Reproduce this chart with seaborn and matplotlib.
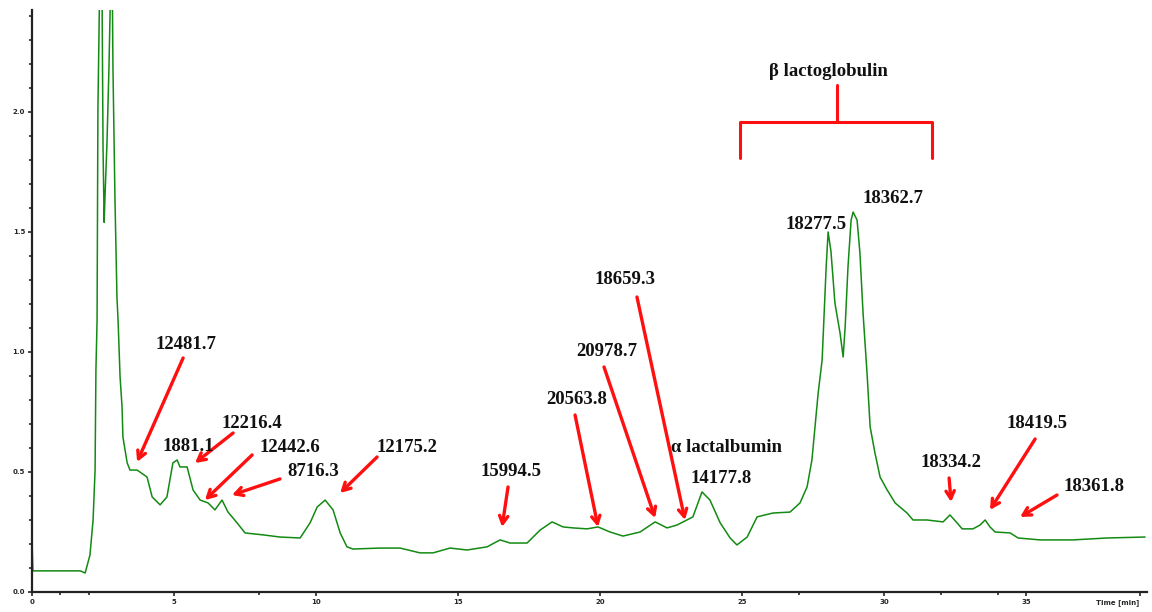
import matplotlib
matplotlib.use("Agg")
import matplotlib.pyplot as plt
import seaborn as sns
import pandas as pd

# chromatogram trace: time (min) and absorbance
time_min = [0.00, 0.03, 1.00, 1.70, 1.87, 2.04, 2.15, 2.22, 2.25, 2.29, 2.32, 2.39, 2.46,
            2.50, 2.54, 2.57, 2.64, 2.71, 2.78, 2.82, 2.85, 2.92, 2.99, 3.03, 3.10, 3.17,
            3.20, 3.35, 3.45, 3.70, 4.05, 4.23, 4.51, 4.75, 4.96, 5.11, 5.21, 5.46, 5.67,
            5.92, 6.20, 6.44, 6.69, 6.90, 7.22, 7.50, 8.13, 8.73, 9.44, 9.79, 10.04, 10.32,
            10.60, 10.85, 11.09, 11.30, 12.25, 12.96, 13.66, 14.12, 14.72, 15.32, 16.02,
            16.48, 16.83, 17.43, 17.89, 18.31, 18.70, 19.05, 19.54, 19.93, 20.35, 20.81,
            21.41, 21.94, 22.36, 22.71, 23.06, 23.27, 23.59, 23.87, 24.23, 24.58, 24.82,
            25.18, 25.53, 25.81, 26.09, 26.69, 27.04, 27.29, 27.46, 27.57, 27.68, 27.82,
            27.89, 27.96, 28.03, 28.13, 28.27, 28.45, 28.56, 28.63, 28.73, 28.84, 28.91,
            29.05, 29.15, 29.26, 29.40, 29.51, 29.68, 29.86, 30.11, 30.39, 30.81, 31.02,
            31.51, 32.08, 32.32, 32.57, 32.75, 33.13, 33.38, 33.56, 33.73, 33.91, 34.44,
            34.72, 35.49, 36.65, 37.85, 39.19]
absorbance = [0.217, 0.088, 0.088, 0.088, 0.079, 0.154, 0.300, 0.508, 0.925, 1.130, 2.010, 2.600, 2.600,
              1.850, 1.540, 1.650, 1.875, 2.190, 2.600, 2.600, 2.180, 1.640, 1.230, 1.130, 0.896, 0.771,
              0.646, 0.538, 0.508, 0.508, 0.479, 0.396, 0.363, 0.396, 0.538, 0.550, 0.521, 0.521, 0.425,
              0.383, 0.371, 0.342, 0.383, 0.333, 0.288, 0.246, 0.238, 0.229, 0.225, 0.288, 0.354, 0.383,
              0.342, 0.246, 0.188, 0.179, 0.183, 0.183, 0.163, 0.163, 0.183, 0.175, 0.188,
              0.217, 0.204, 0.204, 0.258, 0.292, 0.271, 0.267, 0.263, 0.271, 0.250, 0.233,
              0.250, 0.292, 0.267, 0.279, 0.300, 0.313, 0.417, 0.383, 0.288, 0.225, 0.196,
              0.229, 0.313, 0.321, 0.329, 0.333, 0.371, 0.438, 0.550, 0.688, 0.829, 0.967,
              1.163, 1.350, 1.500, 1.420, 1.204, 1.079, 0.979, 1.104, 1.354, 1.550, 1.583,
              1.550, 1.413, 1.163, 0.913, 0.688, 0.579, 0.479, 0.425, 0.371, 0.329, 0.300,
              0.300, 0.292, 0.321, 0.288, 0.263, 0.263, 0.279, 0.300, 0.271, 0.250, 0.246,
              0.225, 0.217, 0.217, 0.225, 0.229]

# peak labels: text, text position, arrow tail, arrow tip (None = no arrow)
peak_labels = ["12481.7", "12216.4", "1881.1", "12442.6", "8716.3", "12175.2", "15994.5",
               "20563.8", "20978.7", "18659.3", "\u03b1 lactalbumin", "14177.8", "18277.5",
               "18362.7", "18334.2", "18419.5", "18361.8", "\u03b2 lactoglobulin"]
label_pos = [(5.42, 1.033), (7.75, 0.700), (5.49, 0.608), (9.08, 0.600), (9.89, 0.500),
             (13.20, 0.600), (16.87, 0.500), (19.19, 0.804), (20.25, 1.004), (20.88, 1.300),
             (24.47, 0.604), (24.26, 0.471), (27.61, 1.533), (30.32, 1.638), (32.36, 0.538),
             (35.39, 0.704), (37.39, 0.4375), (28.03, 2.167)]
arrows = [((5.32, 0.975), (3.70, 0.542)), ((7.08, 0.6625), (5.74, 0.5375)),
          None, ((7.75, 0.571), (6.09, 0.383)), ((8.73, 0.471), (7.04, 0.404)),
          ((12.15, 0.5625), (10.85, 0.4125)), ((16.76, 0.4375), (16.55, 0.271)),
          ((19.12, 0.7375), (19.93, 0.271)), ((20.14, 0.9375), (21.94, 0.308)),
          ((21.30, 1.229), (22.99, 0.300)), None, None, None, None,
          ((32.29, 0.475), (32.36, 0.375)), ((35.32, 0.6375), (33.73, 0.342)),
          ((36.09, 0.404), (34.79, 0.3125)), None]

df = pd.DataFrame({"time": time_min, "abs": absorbance})

sns.set_style("ticks")
fig = plt.figure(figsize=(11.52, 6.12), dpi=100)
ax = fig.add_axes([0.0278, 0.0327, 0.9679, 0.951])

sns.lineplot(data=df, x="time", y="abs", ax=ax, color="#138a13", linewidth=1.1,
             sort=False, estimator=None)

ax.set_xlim(0, 39.26)
ax.set_ylim(0, 2.425)
ax.set_xlabel("")
ax.set_ylabel("")
ax.set_xticks([0, 5, 10, 15, 20, 25, 30, 35, 39])
ax.set_xticklabels(["0", "5", "10", "15", "20", "25", "30", "35", "Time [min]"])
ax.set_xticks([1, 2, 8, 27, 32, 34], minor=True)
ax.set_yticks([0.0, 0.5, 1.0, 1.5, 2.0])
ax.set_yticklabels(["0.0", "0.5", "1.0", "1.5", "2.0"])
ax.set_yticks([i / 10 for i in range(25) if i % 5 != 0], minor=True)
ax.tick_params(axis="both", which="major", labelsize=5, length=3, width=1.2, pad=2)
ax.tick_params(axis="both", which="minor", length=2, width=1.2)
for lab in ax.get_xticklabels() + ax.get_yticklabels():
    lab.set_fontweight("bold")
# keep the last label inside the figure
ax.get_xticklabels()[-1].set_horizontalalignment("right")
for side in ["top", "right"]:
    ax.spines[side].set_visible(False)
for side in ["left", "bottom"]:
    ax.spines[side].set_linewidth(1.6)
    ax.spines[side].set_color("#222222")

for text, (tx, ty), arr in zip(peak_labels, label_pos, arrows):
    ax.text(tx, ty, text, ha="center", va="center", fontsize=13.5, fontweight="bold",
            family=["Liberation Serif", "DejaVu Serif"], color="#111111")
    if arr is not None:
        (x0, y0), (x1, y1) = arr
        ax.annotate("", xy=(x1, y1), xytext=(x0, y0),
                    arrowprops=dict(arrowstyle="->, head_length=0.55, head_width=0.3",
                                    color="#ff1010", lw=2.4, shrinkA=0, shrinkB=0))

# bracket over the beta lactoglobulin pair
ax.plot([28.35, 28.35], [2.1125, 1.958], color="#ff1010", lw=2.2, clip_on=False)
ax.plot([24.93, 24.93, 31.69, 31.69], [1.808, 1.958, 1.958, 1.808], color="#ff1010", lw=2.2)

fig.savefig("out.png", dpi=100)
